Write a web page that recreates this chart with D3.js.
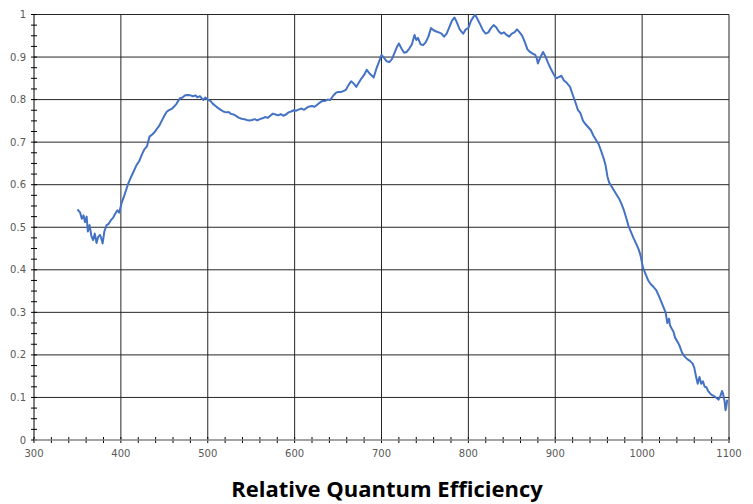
<!DOCTYPE html>
<html lang="en">
<head>
<meta charset="utf-8">
<title>Relative Quantum Efficiency</title>
<script src="https://cdn.jsdelivr.net/npm/d3@7"></script>
<style>
  body { margin: 0; background: #fff; }
  .tick-label { font-family: "DejaVu Sans", sans-serif; font-size: 10px; fill: #595959; }
  .title { font-family: "Open Sans", sans-serif; font-weight: bold; font-size: 22px; fill: #000; }
</style>
</head>
<body>
<div id="chart"></div>
<script>
// wavelength (nm) and relative QE
var wavelength = [350,353,355,357,358.7,360.6,362,364,366,368,370,372,374,376,378,379,381,383.6,386,389,391,393,396,398,
  401,404,408,411,414,418,421,424,427,430,433,436,439,441,444,447,450,453,456,459,461,464,466,468,471,474,477,480,483,486,488,491,493,495,497,
  500,503,506,509,512,515,518,521,524,527,530,533,536,539,542,545,548,551,554,557,560,563,566,569,572,575,578,581,584,587,590,593,596,599,
  602,605,608,611,614,617,620,623,626,629,632,635,638,641,644,647,650,653,656,659,662,665,668,671,674,677,680,683,686,689,691,694,697,
  700,703,706,709,712,715,718,720,723,726,729,732,735,738,740,742,745,748,751,754,757,760,763,766,769,772,775,778,781,784,786,788,790,792,794,797,
  800,803,806,808,811,814,817,820,823,826,829,832,835,838,841,844,847,850,853,856,859,862,865,868,871,874,877,879,880,883,886,889,892,895,898,
  901,904,907,910,913,917,920,923,926,929,932,935,938,941,944,947,950,953,956,958,960,962,965,968,971,974,976,979,982,984,987,990,993,996,998,
  1001,1004,1007,1010,1013,1016,1019,1022,1025,1027,1029,1031,1032,1034,1036,1038,1041,1043,1046,1049,1052,1055,1058,1060,1062,1064,1066,1068,
  1070,1072,1074,1076,1078,1080,1083,1086,1088,1090,1092,1093,1095,1096,1097,1098];
var qe = [0.542,0.535,0.52,0.528,0.512,0.525,0.49,0.505,0.48,0.47,0.485,0.463,0.478,0.482,0.47,0.462,0.49,0.505,0.508,0.518,0.522,0.53,0.54,0.534,
  0.558,0.575,0.6,0.615,0.628,0.646,0.655,0.67,0.683,0.69,0.713,0.718,0.724,0.73,0.738,0.75,0.762,0.772,0.776,0.779,0.783,0.79,0.797,0.803,0.805,0.81,0.811,0.81,0.808,0.81,0.805,0.808,0.803,0.799,0.805,
  0.8,0.797,0.79,0.785,0.78,0.776,0.772,0.77,0.771,0.766,0.765,0.761,0.757,0.755,0.754,0.752,0.751,0.752,0.754,0.751,0.754,0.756,0.759,0.757,0.762,0.767,0.765,0.763,0.766,0.762,0.765,0.77,0.772,0.775,
  0.774,0.777,0.779,0.776,0.781,0.784,0.785,0.783,0.788,0.793,0.797,0.797,0.8,0.799,0.808,0.815,0.818,0.818,0.82,0.823,0.834,0.843,0.838,0.83,0.84,0.85,0.858,0.87,0.862,0.856,0.852,0.872,0.888,
  0.905,0.898,0.89,0.888,0.895,0.91,0.925,0.932,0.92,0.91,0.912,0.92,0.93,0.952,0.94,0.945,0.93,0.928,0.935,0.948,0.968,0.963,0.96,0.958,0.955,0.948,0.955,0.97,0.985,0.993,0.985,0.975,0.965,0.96,0.955,0.965,
  0.968,0.985,0.995,0.999,0.987,0.975,0.962,0.955,0.958,0.968,0.975,0.97,0.96,0.955,0.958,0.952,0.948,0.955,0.958,0.965,0.958,0.95,0.935,0.918,0.912,0.908,0.905,0.895,0.885,0.9,0.912,0.9,0.885,0.872,0.86,
  0.85,0.853,0.856,0.845,0.84,0.83,0.812,0.795,0.776,0.768,0.75,0.742,0.735,0.728,0.715,0.705,0.695,0.678,0.66,0.645,0.62,0.605,0.595,0.585,0.575,0.565,0.556,0.54,0.52,0.505,0.49,0.475,0.462,0.448,0.435,
  0.405,0.39,0.375,0.366,0.36,0.353,0.34,0.325,0.31,0.3,0.275,0.285,0.27,0.262,0.255,0.24,0.23,0.222,0.205,0.196,0.19,0.186,0.18,0.17,0.15,0.132,0.148,0.132,
  0.138,0.125,0.124,0.115,0.11,0.106,0.103,0.098,0.095,0.103,0.115,0.11,0.09,0.07,0.08,0.095];

var xTicks = [300,400,500,600,700,800,900,1000,1100];
var yTicks = [0,0.1,0.2,0.3,0.4,0.5,0.6,0.7,0.8,0.9,1];
var titleText = "Relative Quantum Efficiency";

var W = 753, H = 504;
var margin = {top: 14.5, right: 24, bottom: 64, left: 34};

var svg = d3.select("#chart").append("svg")
    .attr("width", W)
    .attr("height", H);

var x = d3.scaleLinear().domain([300, 1100]).range([margin.left, W - margin.right]);
var y = d3.scaleLinear().domain([0, 1]).range([H - margin.bottom, margin.top]);

// gridlines
svg.append("g").selectAll("line")
    .data(yTicks.slice(1))
    .enter().append("line")
    .attr("x1", x(300)).attr("x2", x(1100))
    .attr("y1", function(d) { return y(d); }).attr("y2", function(d) { return y(d); })
    .attr("stroke", "#262626").attr("stroke-width", 1);

svg.append("g").selectAll("line")
    .data(xTicks.slice(1))
    .enter().append("line")
    .attr("x1", function(d) { return x(d); }).attr("x2", function(d) { return x(d); })
    .attr("y1", y(0)).attr("y2", y(1))
    .attr("stroke", "#262626").attr("stroke-width", 1);

// minor ticks crossing the axes
var xMinor = d3.range(300, 1100.1, 20);
svg.append("g").selectAll("line")
    .data(xMinor)
    .enter().append("line")
    .attr("x1", function(d) { return x(d); }).attr("x2", function(d) { return x(d); })
    .attr("y1", y(0) - 3).attr("y2", y(0) + 3)
    .attr("stroke", "#000").attr("stroke-width", 1);

var yMinor = d3.range(0, 1.001, 0.025);
svg.append("g").selectAll("line")
    .data(yMinor)
    .enter().append("line")
    .attr("x1", x(300) - 3).attr("x2", x(300) + 3)
    .attr("y1", function(d) { return y(d); }).attr("y2", function(d) { return y(d); })
    .attr("stroke", "#000").attr("stroke-width", 1);

// axis lines
svg.append("line")
    .attr("x1", x(300)).attr("x2", x(300)).attr("y1", y(0)).attr("y2", y(1))
    .attr("stroke", "#000").attr("stroke-width", 1);
svg.append("line")
    .attr("x1", x(300)).attr("x2", x(1100)).attr("y1", y(0)).attr("y2", y(0))
    .attr("stroke", "#868686").attr("stroke-width", 1.5);

// tick labels
svg.append("g").selectAll("text")
    .data(yTicks)
    .enter().append("text")
    .attr("class", "tick-label")
    .attr("x", 26)
    .attr("y", function(d) { return y(d); })
    .attr("dy", "0.35em")
    .attr("text-anchor", "end")
    .text(function(d) { return d3.format("")(d); });

svg.append("g").selectAll("text")
    .data(xTicks)
    .enter().append("text")
    .attr("class", "tick-label")
    .attr("x", function(d) { return x(d); })
    .attr("y", y(0) + 17)
    .attr("text-anchor", "middle")
    .text(function(d) { return d; });

// the curve
var data = wavelength.map(function(w, i) { return [w, qe[i]]; });
var line = d3.line()
    .x(function(d) { return x(d[0]); })
    .y(function(d) { return y(d[1]); });

svg.append("path")
    .datum(data)
    .attr("fill", "none")
    .attr("stroke", "#4472c4")
    .attr("stroke-width", 2)
    .attr("stroke-linejoin", "round")
    .attr("d", line);

// title
svg.append("text")
    .attr("class", "title")
    .attr("x", 387)
    .attr("y", 497)
    .attr("text-anchor", "middle")
    .text(titleText);
</script>
</body>
</html>
